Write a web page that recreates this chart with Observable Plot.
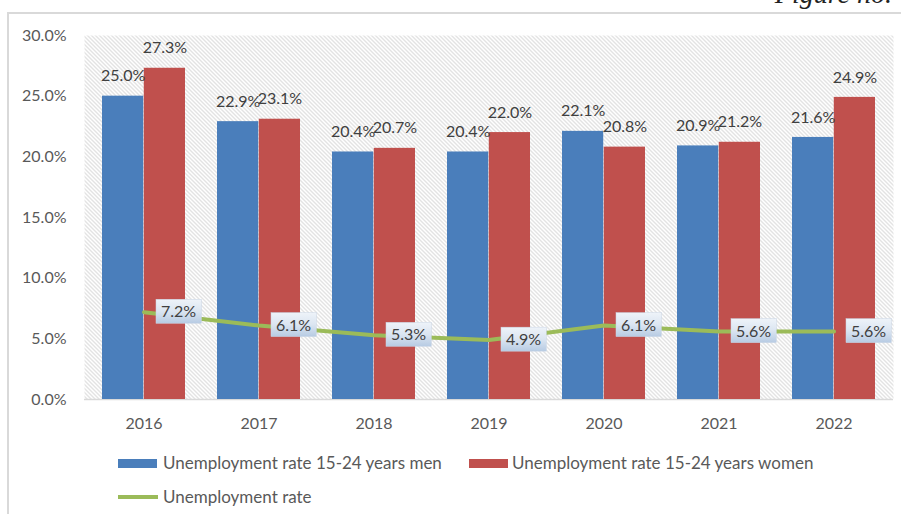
<!DOCTYPE html>
<html>
<head>
<meta charset="utf-8">
<script src="https://cdn.jsdelivr.net/npm/d3@7"></script>
<script src="https://cdn.jsdelivr.net/npm/@observablehq/plot@0.6"></script>
<style>
  html, body { margin: 0; padding: 0; background: #fff; }
  #wrap { position: relative; width: 901px; height: 514px; overflow: hidden; font-family: Lato, "Open Sans", sans-serif; }
  #frame { position: absolute; left: 7px; top: 12px; width: 900px; height: 510px; border-left: 2px solid #d9d9d9; border-top: 2px solid #d9d9d9; box-sizing: border-box; }
  #fig { position: absolute; right: 9px; top: -22px; font-family: "Liberation Serif", serif; font-style: italic; font-size: 28px; color: #222; white-space: nowrap; }
  #chart { position: absolute; left: 0; top: 0; }
  .leg { position: absolute; font-size: 17px; color: #595959; white-space: nowrap; line-height: 20px; }
  .sw { position: absolute; }
</style>
</head>
<body>
<div id="wrap">
  <div id="frame"></div>
  <div id="fig">Figure no.</div>
  <div id="chart"></div>
  <div class="sw" style="left:118px;top:459px;width:39px;height:9px;background:#4A7EBB"></div>
  <div class="leg" style="left:163px;top:453px">Unemployment rate 15-24 years men</div>
  <div class="sw" style="left:469px;top:459px;width:39px;height:9px;background:#C0504D"></div>
  <div class="leg" style="left:512px;top:453px">Unemployment rate 15-24 years women</div>
  <div class="sw" style="left:118px;top:495px;width:40px;height:4px;background:#9BBB59"></div>
  <div class="leg" style="left:163px;top:487px">Unemployment rate</div>
</div>
<script>
const years = ["2016", "2017", "2018", "2019", "2020", "2021", "2022"];
const menRate = [0.250, 0.229, 0.204, 0.204, 0.221, 0.209, 0.216];
const womenRate = [0.273, 0.231, 0.207, 0.220, 0.208, 0.212, 0.249];
const totalRate = [0.072, 0.061, 0.053, 0.049, 0.061, 0.056, 0.056];
const yTicks = [0, 0.05, 0.10, 0.15, 0.20, 0.25, 0.30];

const data = years.map((y, i) => ({year: y, men: menRate[i], women: womenRate[i], total: totalRate[i]}));

const W = 901, H = 440, ML = 84, MR = 8, MT = 35, MB = 41;
const band = (W - ML - MR) / years.length;
const edge = 16;            // gap from band edge to bar pair
const half = band / 2;
const barW = half - edge;
const off = barW / 2;
const fmt = d3.format(".1%");

const plot = Plot.plot({
  width: W, height: H,
  marginLeft: ML, marginRight: MR, marginTop: MT, marginBottom: MB,
  style: {fontFamily: "Lato, 'Open Sans', sans-serif", fontSize: "16px", color: "#595959", background: "transparent"},
  x: {domain: years, padding: 0, label: null, tickSize: 0, tickPadding: 18},
  y: {domain: [0, 0.30], ticks: yTicks, tickFormat: fmt, label: null, tickSize: 0, tickPadding: 18},
  marks: [
    Plot.frame({fill: "url(#hatch)", stroke: "none"}),
    Plot.ruleY([0], {stroke: "#d9d9d9", strokeWidth: 1.5}),
    Plot.barY(data, {x: "year", y: "men", fill: "#4A7EBB", insetLeft: edge, insetRight: half}),
    Plot.barY(data, {x: "year", y: "women", fill: "#C0504D", insetLeft: half, insetRight: edge}),
    Plot.text(data, {x: "year", y: "men", text: d => fmt(d.men), dx: -off, dy: -20, fill: "#404040", fontSize: 16}),
    Plot.text(data, {x: "year", y: "women", text: d => fmt(d.women), dx: off, dy: -20, fill: "#404040", fontSize: 16}),
    Plot.line(data, {x: "year", y: "total", stroke: "#9BBB59", strokeWidth: 4}),
    Plot.text(data, {x: "year", y: "total", text: d => fmt(d.total), dx: 17, dy: 0, textAnchor: "start", fill: "#404040", fontSize: 16, ariaLabel: () => "line-labels", ariaDescription: "line-labels"})
  ]
});

// pattern and gradient definitions
const ns = "http://www.w3.org/2000/svg";
const defs = document.createElementNS(ns, "defs");
defs.innerHTML = `
  <pattern id="hatch" patternUnits="userSpaceOnUse" width="4" height="4">
    <rect width="4" height="4" fill="#ffffff"/>
    <path d="M-1,-1 L5,5 M-1,3 L1,5 M3,-1 L5,1" stroke="#c6c6c6" stroke-width="1"/>
  </pattern>
  <linearGradient id="lblgrad" x1="0" y1="0" x2="0" y2="1">
    <stop offset="0" stop-color="#eef3f9"/>
    <stop offset="0.5" stop-color="#dbe5f1"/>
    <stop offset="1" stop-color="#b7cbe3"/>
  </linearGradient>`;
plot.insertBefore(defs, plot.firstChild);
document.getElementById("chart").appendChild(plot);

// boxes behind line labels
let texts = Array.from(plot.querySelectorAll('text[aria-label="line-labels"]'));
if (!texts.length) {
  const g = plot.querySelector('g[aria-description="line-labels"]');
  if (g) texts = Array.from(g.querySelectorAll("text"));
}
texts.forEach(t => {
  const b = t.getBBox();
  const r = document.createElementNS(ns, "rect");
  const m = t.getAttribute("transform");
  if (m) r.setAttribute("transform", m);
  r.setAttribute("x", b.x - 5);
  r.setAttribute("y", b.y - 2);
  r.setAttribute("width", b.width + 10);
  r.setAttribute("height", b.height + 5);
  r.setAttribute("fill", "url(#lblgrad)");
  r.setAttribute("stroke", "#c9d6e6");
  r.setAttribute("stroke-width", "0.5");
  t.parentNode.insertBefore(r, t);
});
</script>
</body>
</html>
